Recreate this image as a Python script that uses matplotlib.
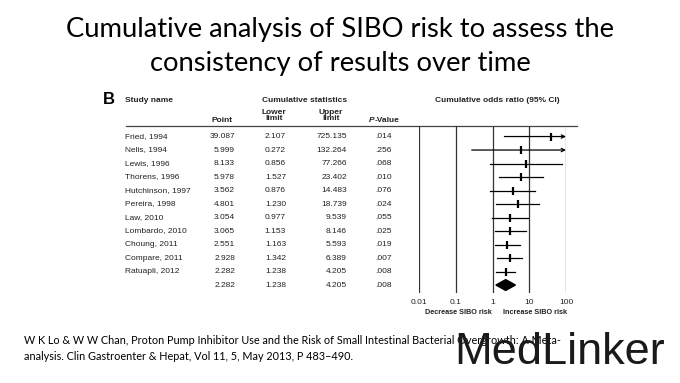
import matplotlib.pyplot as plt
from matplotlib import transforms

# data
studies = ["Fried, 1994", "Nelis, 1994", "Lewis, 1996", "Thorens, 1996",
           "Hutchinson, 1997", "Pereira, 1998", "Law, 2010", "Lombardo, 2010",
           "Choung, 2011", "Compare, 2011", "Ratuapli, 2012", ""]
point = [39.087, 5.999, 8.133, 5.978, 3.562, 4.801, 3.054, 3.065,
         2.551, 2.928, 2.282, 2.282]
lower = [2.107, 0.272, 0.856, 1.527, 0.876, 1.230, 0.977, 1.153,
         1.163, 1.342, 1.238, 1.238]
upper = [725.135, 132.264, 77.266, 23.402, 14.483, 18.739, 9.539, 8.146,
         5.593, 6.389, 4.205, 4.205]
pvals = [".014", ".256", ".068", ".010", ".076", ".024", ".055", ".025",
         ".019", ".007", ".008", ".008"]
ticks = [0.01, 0.1, 1, 10, 100]
tick_labels = ["0.01", "0.1", "1", "10", "100"]

W, H = 680, 383
fig = plt.figure(figsize=(W / 100, H / 100), dpi=100)
fig.patch.set_facecolor("white")

# overlay in pixel coordinates for text and rules
ov = fig.add_axes([0, 0, 1, 1])
ov.set_xlim(0, W)
ov.set_ylim(H, 0)
ov.axis("off")

# forest plot axes: x 0.01..100 -> px 419..566, y px 126..293
x0, x1, y0, y1 = 419, 566, 126, 293
ax = fig.add_axes([x0 / W, 1 - y1 / H, (x1 - x0) / W, (y1 - y0) / H])
ax.set_xscale("log")
ax.set_xlim(0.01, 100)
n = len(studies)
ax.set_ylim(11.59, -0.78)
ax.patch.set_alpha(0)
for s in ax.spines.values():
    s.set_visible(False)
ax.set_yticks([])
ax.set_xticks(ticks)
ax.set_xticklabels(tick_labels, fontsize=6, family="Liberation Sans", color="#222222")
ax.xaxis.set_minor_locator(plt.NullLocator())
ax.tick_params(axis="x", length=0, pad=4)
for t in ticks:
    ax.axvline(t, color="#333333", lw=0.9, zorder=1)

for i in range(n):
    lo, pt, hi = lower[i], point[i], upper[i]
    if i == n - 1:
        # pooled estimate as a diamond
        h = 0.4
        ax.fill([lo, pt, hi, pt], [i, i - h, i, i + h], color="black", zorder=3)
        continue
    if hi > 100:
        ax.annotate("", xy=(100, i), xytext=(lo, i),
                    arrowprops=dict(arrowstyle="->", lw=0.9, color="black",
                                    mutation_scale=6, shrinkA=0, shrinkB=0),
                    annotation_clip=False, zorder=3)
    else:
        ax.plot([lo, hi], [i, i], color="black", lw=0.9, zorder=3)
    ax.plot([pt], [i], marker="|", ms=6, mew=1.6, color="black", zorder=4)

# table text, x in pixels, y in forest rows
tr = transforms.blended_transform_factory(ov.transData, ax.transData)
tkw = dict(fontsize=6, family="Liberation Sans", color="#222222", va="center",
           transform=tr)
for i in range(n):
    ov.text(125, i, studies[i], ha="left", **tkw)
    ov.text(235, i, f"{point[i]:.3f}", ha="right", **tkw)
    ov.text(286, i, f"{lower[i]:.3f}", ha="right", **tkw)
    ov.text(347, i, f"{upper[i]:.3f}", ha="right", **tkw)
    ov.text(392, i, pvals[i], ha="right", **tkw)

hkw = dict(fontsize=6, family="Liberation Sans", weight="bold", color="#222222",
           va="center")
ov.text(109, 100, "B", fontsize=12, family="Liberation Sans", weight="bold",
        ha="center", va="center", color="black")
ov.text(125, 100, "Study name", ha="left", **hkw)
ov.text(305, 100, "Cumulative statistics", ha="center", **hkw)
ov.text(497, 100, "Cumulative odds ratio (95% CI)", ha="center", **hkw)
ov.text(233, 120, "Point", ha="right", **hkw)
ov.text(274, 115.5, "Lower\nlimit", ha="center", linespacing=0.95, **hkw)
ov.text(331, 115.5, "Upper\nlimit", ha="center", linespacing=0.95, **hkw)
ov.text(369, 120, "P", ha="left", style="italic", **hkw)
ov.text(374.5, 120, "-Value", ha="left", **hkw)
ov.plot([126, 577], [126, 126], color="#444444", lw=0.9)

ov.text(458, 313, "Decrease SIBO risk", ha="center", **dict(hkw, fontsize=5.2))
ov.text(535, 313, "Increase SIBO risk", ha="center", **dict(hkw, fontsize=5.2))

# slide title
ov.text(340, 30, "Cumulative analysis of SIBO risk to assess the",
        fontsize=19.7, family="Lato", ha="center", va="center", color="black")
ov.text(340, 64, "consistency of results over time",
        fontsize=19.7, family="Lato", ha="center", va="center", color="black")

# citation and watermark
ov.text(24, 341, "W K Lo & W W Chan, Proton Pump Inhibitor Use and the Risk of Small Intestinal Bacterial Overgrowth: A Meta-",
        fontsize=7.8, family="Lato", ha="left", va="center", color="black")
ov.text(24, 356, "analysis. Clin Gastroenter & Hepat, Vol 11, 5, May 2013, P 483\u2013490.",
        fontsize=7.8, family="Lato", ha="left", va="center", color="black")
ov.text(454, 364, "MedLinker", fontsize=32.5, family="Liberation Sans",
        ha="left", va="baseline", color="#1a1a1a")

fig.savefig("out.png", dpi=100, facecolor="white")
